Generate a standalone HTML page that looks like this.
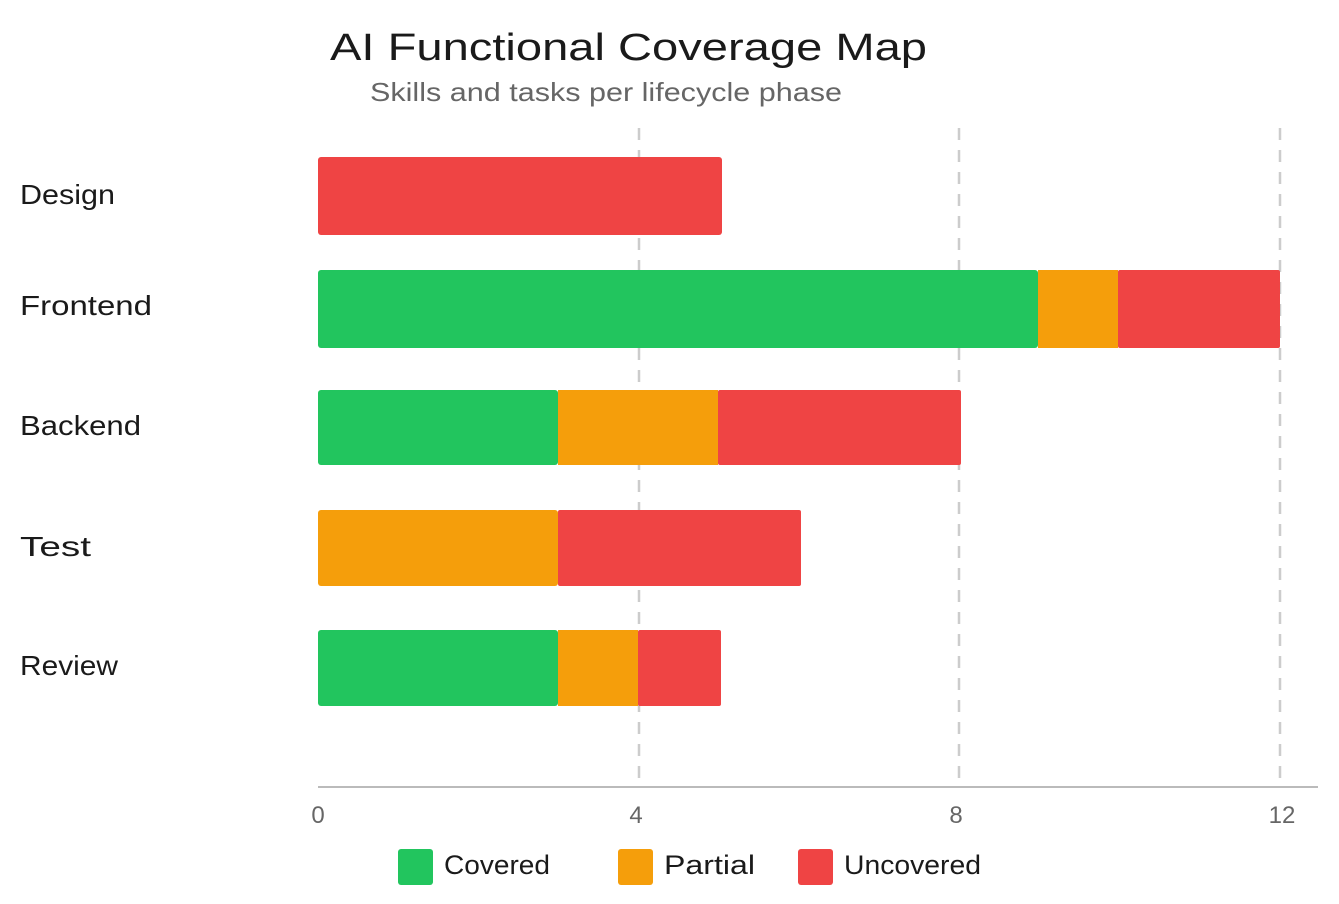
<!DOCTYPE html>
<html><head><meta charset="utf-8"><style>
html,body{margin:0;padding:0;background:#fff;}
svg{display:block;}
text{font-family:"Liberation Sans",sans-serif;}
</style></head><body>
<svg width="1339" height="904" viewBox="0 0 1339 904" xmlns="http://www.w3.org/2000/svg">
<text x="330" y="60" font-size="38" fill="#1a1a1a" textLength="597" lengthAdjust="spacingAndGlyphs">AI Functional Coverage Map</text>
<text x="370" y="101" font-size="26" fill="#666" textLength="472" lengthAdjust="spacingAndGlyphs">Skills and tasks per lifecycle phase</text>
<g stroke="#ccc" stroke-width="2.5" stroke-dasharray="12,10">
<line x1="639" y1="128" x2="639" y2="787"/>
<line x1="959" y1="128" x2="959" y2="787"/>
<line x1="1280" y1="128" x2="1280" y2="787"/>
</g>
<line x1="318" y1="787" x2="1318" y2="787" stroke="#bbb" stroke-width="2"/>
<g font-size="24" fill="#666" text-anchor="middle">
<text x="318" y="823">0</text><text x="636" y="823">4</text><text x="956" y="823">8</text><text x="1282" y="823">12</text>
</g>
<g font-size="28" fill="#1a1a1a" lengthAdjust="spacingAndGlyphs">
<text x="20" y="204" textLength="95" lengthAdjust="spacingAndGlyphs">Design</text>
<text x="20" y="315" textLength="132" lengthAdjust="spacingAndGlyphs">Frontend</text>
<text x="20" y="435" textLength="121" lengthAdjust="spacingAndGlyphs">Backend</text>
<text x="20" y="556" textLength="71" lengthAdjust="spacingAndGlyphs">Test</text>
<text x="20" y="675" textLength="98" lengthAdjust="spacingAndGlyphs">Review</text>
</g>
<rect x="318" y="157" width="404" height="78" fill="#ef4444" rx="3"/>
<rect x="318" y="270" width="720" height="78" fill="#22c55e" rx="3"/>
<rect x="1038" y="270" width="80" height="78" fill="#f59e0b"/>
<rect x="1118" y="270" width="162" height="78" fill="#ef4444" rx="2"/>
<rect x="318" y="390" width="240" height="75" fill="#22c55e" rx="3"/>
<rect x="558" y="390" width="160" height="75" fill="#f59e0b"/>
<rect x="718" y="390" width="243" height="75" fill="#ef4444" rx="2"/>
<rect x="318" y="510" width="240" height="76" fill="#f59e0b" rx="3"/>
<rect x="558" y="510" width="243" height="76" fill="#ef4444" rx="2"/>
<rect x="318" y="630" width="240" height="76" fill="#22c55e" rx="3"/>
<rect x="558" y="630" width="80" height="76" fill="#f59e0b"/>
<rect x="638" y="630" width="83" height="76" fill="#ef4444" rx="2"/>
<rect x="398" y="849" width="35" height="36" fill="#22c55e" rx="3"/>
<rect x="618" y="849" width="35" height="36" fill="#f59e0b" rx="3"/>
<rect x="798" y="849" width="35" height="36" fill="#ef4444" rx="3"/>
<g font-size="27" fill="#1a1a1a">
<text x="444" y="874" textLength="106" lengthAdjust="spacingAndGlyphs">Covered</text>
<text x="664" y="874" textLength="91" lengthAdjust="spacingAndGlyphs">Partial</text>
<text x="844" y="874" textLength="137" lengthAdjust="spacingAndGlyphs">Uncovered</text>
</g>
</svg>
</body></html>
